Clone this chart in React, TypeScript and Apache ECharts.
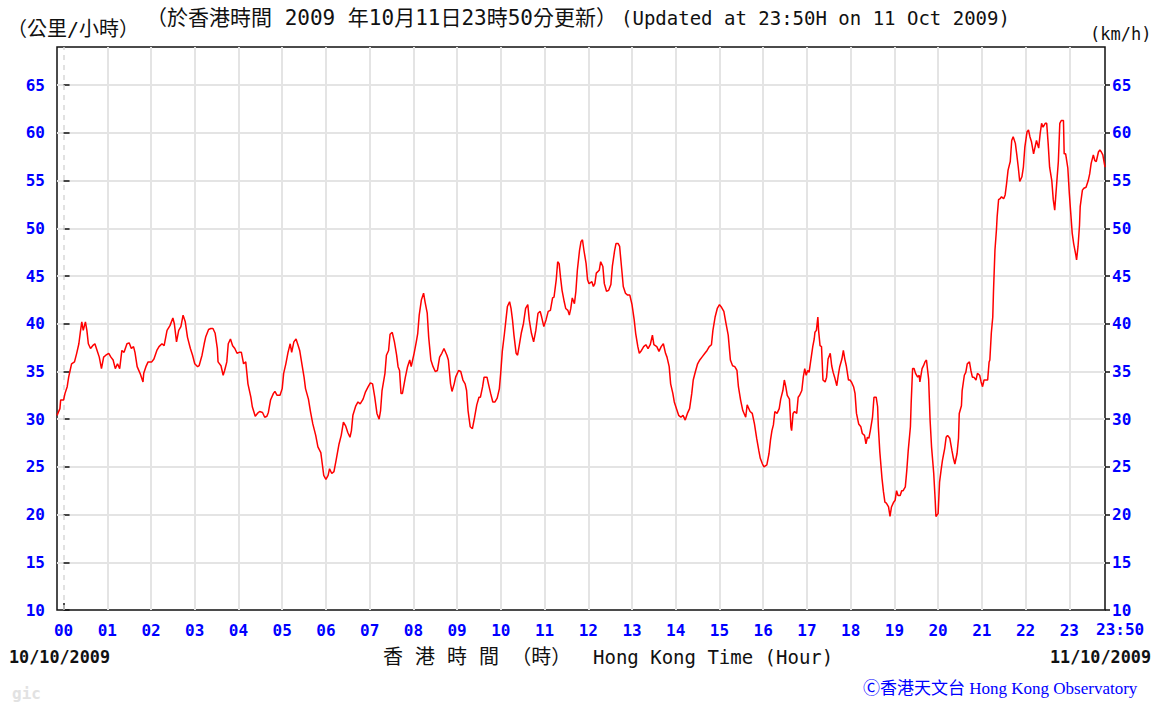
import React, { useEffect, useRef } from "react";
import * as echarts from "echarts";

// Wind speed readings: [minutes after 00:00 HKT, km/h]
const windNight: [number, number][] = [
  [-9,30.4],[-5,31.1],[-4,32.0],[0,32.0],[2,32.7],[5,33.4],[7,34.4],[9,35.1],[11,35.8],[15,36.0],[18,36.9],[21,37.9],[23,39.1],[25,40.2],[27,39.3],[30,40.2],[32,39.3],[34,37.9],[37,37.4],[40,37.7],[43,37.9],[46,37.2],[49,36.5],[52,35.3],[55,36.5],[58,36.7],[62,36.9],[65,36.5],[68,36.2],[71,35.3],[74,35.8],[77,35.3],[80,37.2],[83,37.0],[87,37.9],[90,38.0],[93,37.4],[96,37.6],[98,37.0],[101,35.5],[105,34.8],[109,33.9],[110,34.8],[113,35.5],[116,36.0],[121,36.0],[124,36.3],[128,37.2],[131,37.6],[135,37.9],[138,37.7],[142,39.3],[146,39.8],[150,40.6],[152,40.0],[155,38.1],[158,39.3],[161,39.7],[164,40.9],[167,40.2],[170,38.6],[174,37.4],[177,36.7],[180,35.8],[184,35.5],[186,35.6],[190,36.7],[193,37.9],[195,38.6],[199,39.4],[202,39.5],[205,39.5],[208,39.0],[211,37.4],[212,36.0],[216,35.6],[219,34.6],[221,35.1],[224,36.0],[226,37.9],[229,38.4],[232,37.7],[235,37.4],[238,36.9],[241,37.0],[244,37.0],[247,35.8],[250,36.0],[253,33.7],[257,32.3],[259,31.3],[263,30.3],[266,30.6],[269,30.8],[273,30.7],[276,30.2],[279,30.3],[281,30.7],[284,32.0],[288,32.7],[290,32.9],[293,32.5],[297,32.5],[300,33.2],[302,34.8],[305,35.8],[308,37.0],[311,37.9],[313,37.0],[316,38.1],[319,38.4],[322,37.7],[324,37.2],[327,35.8],[330,34.4],[332,33.2],[336,32.1],[339,30.7],[342,29.5],[346,28.3],[349,27.1],[353,26.5],[355,25.3],[357,24.1]
];
const windMorning: [number, number][] = [
  [360,23.7],[363,24.1],[365,24.8],[368,24.3],[371,24.5],[374,25.7],[378,27.4],[381,28.3],[384,29.7],[387,29.3],[390,28.6],[393,28.1],[395,28.8],[397,30.4],[401,31.4],[404,31.8],[407,31.6],[411,32.1],[414,32.8],[418,33.4],[421,33.8],[424,33.7],[427,32.3],[430,30.6],[433,30.0],[435,30.9],[437,33.0],[441,34.8],[443,36.7],[446,37.2],[448,38.9],[451,39.1],[454,38.1],[457,36.7],[459,35.5],[461,35.1],[463,32.7],[465,32.7],[469,34.4],[472,35.5],[475,36.2],[477,35.5],[479,36.2],[481,36.9],[484,38.1],[486,39.0],[488,40.9],[491,42.5],[494,43.2],[496,42.3],[499,41.1],[501,38.6],[504,36.2],[507,35.5],[510,35.0],[513,35.1],[516,36.5],[519,36.9],[522,37.4],[526,36.7],[528,36.2],[531,33.7],[533,32.9],[536,33.7],[538,34.4],[542,35.1],[545,35.0],[548,34.1],[551,33.7],[553,33.0],[555,30.9],[558,29.2],[561,29.0],[564,30.2],[567,31.5],[570,32.3],[572,32.3],[575,33.4],[577,34.4],[581,34.4],[583,33.7],[586,32.7],[589,31.8],[592,31.8],[595,32.2],[598,33.2],[600,35.0],[602,37.1],[605,39.0],[607,40.4],[609,41.8],[612,42.3],[614,41.6],[616,40.4],[618,38.8],[621,36.9],[623,36.7],[625,37.6],[628,39.0],[631,40.0],[634,41.6],[637,42.0],[639,40.4],[642,39.0],[645,38.1],[648,39.3],[651,41.1],[654,41.3],[656,40.7],[659,39.7],[662,40.4],[665,41.3],[668,41.4],[671,42.7],[673,42.8],[676,44.6],[678,46.5],[680,46.3],[682,44.8],[684,43.5],[687,42.3],[689,41.6],[692,41.4],[694,40.9],[696,41.6],[698,42.7],[701,42.1],[703,43.4],[705,45.6],[708,47.7],[710,48.6],[712,48.8],[714,47.7],[717,46.3],[719,44.6]
];
const windAfternoon: [number, number][] = [
  [721,44.2],[725,44.4],[727,43.9],[729,44.2],[731,45.3],[735,45.6],[737,46.5],[740,46.0],[742,44.2],[745,43.4],[748,43.5],[751,44.1],[753,46.0],[756,47.6],[758,48.4],[761,48.4],[763,48.1],[766,45.6],[768,43.9],[771,43.2],[774,43.0],[777,43.0],[780,42.0],[783,40.4],[785,39.0],[788,37.6],[790,36.9],[793,37.2],[796,37.6],[799,37.8],[802,37.4],[805,37.8],[808,38.8],[810,37.8],[814,37.6],[817,37.1],[820,37.6],[823,37.9],[826,36.9],[828,36.5],[831,35.5],[833,33.7],[836,32.7],[838,31.8],[841,31.1],[844,30.4],[847,30.2],[850,30.4],[853,29.9],[856,30.6],[859,31.1],[862,32.7],[864,34.1],[867,35.0],[870,35.8],[873,36.2],[876,36.5],[880,36.9],[883,37.2],[886,37.6],[889,37.8],[891,39.3],[894,40.7],[897,41.6],[900,42.0],[903,41.7],[906,41.3],[909,40.0],[912,38.8],[915,36.2],[918,35.6],[921,35.5],[924,35.1],[926,33.4],[929,32.0],[932,30.9],[936,30.2],[938,31.5],[942,30.8],[945,30.6],[948,29.5],[951,28.0],[954,26.7],[956,25.9],[959,25.3],[961,25.0],[965,25.2],[968,26.4],[970,27.8],[972,28.8],[974,29.4],[976,30.8],[979,30.6],[982,31.1],[984,32.1],[987,33.0],[989,34.1],[991,33.4],[993,32.5],[996,32.1],[998,29.2],[999,28.8],[1001,30.6],[1003,30.8],[1006,30.6],[1008,32.3],[1010,32.5],[1013,33.0],[1015,34.4],[1017,35.3],[1019,34.6],[1021,35.1],[1023,34.9],[1025,36.0],[1028,37.6],[1030,38.4],[1031,39.1],[1033,39.3],[1035,40.7],[1036,39.3],[1038,37.7],[1040,37.6],[1042,34.1],[1045,33.9],[1047,34.4],[1049,36.3],[1052,36.9],[1054,35.6],[1056,34.9],[1058,34.4],[1061,33.5],[1063,34.6],[1065,35.5],[1068,36.3],[1070,37.2],[1072,36.3],[1074,35.6],[1077,34.1]
];
const windEvening: [number, number][] = [
  [1079,34.1],[1081,33.9],[1084,33.4],[1086,32.7],[1088,30.6],[1091,29.5],[1094,29.2],[1096,28.5],[1099,28.3],[1101,27.4],[1103,28.1],[1105,28.0],[1107,28.8],[1110,30.2],[1112,32.3],[1115,32.3],[1117,31.3],[1118,29.2],[1120,26.6],[1123,23.8],[1125,22.4],[1127,21.3],[1129,21.2],[1132,20.8],[1134,19.8],[1136,20.8],[1139,21.3],[1141,21.5],[1143,22.5],[1145,22.0],[1148,22.0],[1150,22.5],[1152,22.5],[1155,22.9],[1157,24.6],[1159,26.7],[1162,29.2],[1163,31.6],[1165,35.3],[1167,35.3],[1169,34.8],[1172,34.4],[1174,34.6],[1175,33.9],[1178,35.3],[1180,35.6],[1182,36.0],[1184,36.2],[1187,34.2],[1189,29.9],[1191,27.1],[1194,24.3],[1196,21.5],[1197,19.8],[1200,20.1],[1202,23.4],[1204,24.6],[1206,25.7],[1209,26.9],[1211,28.1],[1213,28.3],[1216,28.0],[1219,26.7],[1221,25.9],[1223,25.3],[1226,26.4],[1228,28.0],[1229,30.6],[1232,31.4],[1233,33.0],[1236,34.6],[1238,34.9],[1240,35.8],[1243,36.0],[1245,35.1],[1247,34.4],[1249,34.4],[1252,34.1],[1254,34.8],[1257,34.6],[1259,33.9],[1261,33.4],[1263,34.1],[1266,34.1],[1268,34.1],[1270,36.0],[1271,36.2],[1273,39.0],[1275,40.7],[1276,43.4],[1278,47.7],[1280,49.8],[1281,51.2],[1283,53.0],[1285,53.1],[1287,53.3],[1290,53.1],[1292,53.5],[1294,54.7],[1296,56.1],[1299,57.0],[1301,59.2],[1303,59.6],[1306,58.9],[1308,57.7],[1310,56.4],[1312,54.9],[1315,55.4],[1317,56.4],[1319,58.5],[1322,60.1],[1324,60.3],[1326,59.6],[1328,59.1],[1331,57.8],[1333,58.5],[1335,59.2],[1338,58.4],[1340,59.9],[1342,61.0],[1344,60.6],[1347,61.0],[1349,61.0],[1351,58.9],[1353,56.4],[1356,55.0],[1358,53.0],[1360,51.9],[1363,55.0],[1365,57.0],[1367,61.0],[1369,61.3],[1372,61.3],[1373,57.8],[1375,57.8],[1378,56.3],[1380,53.7],[1382,51.6],[1384,49.5],[1386,48.4],[1389,47.2],[1390,46.7],[1392,48.1],[1394,50.3],[1395,52.3],[1398,54.0],[1400,54.2],[1403,54.3],[1406,55.0],[1408,55.7],[1410,56.8],[1413,57.7],[1415,57.1],[1417,57.0],[1420,58.0],[1422,58.2],[1424,58.0],[1426,57.7],[1429,56.4]
];

const hourLabels = ["00","01","02","03","04","05","06","07","08","09","10","11","12","13","14","15","16","17","18","19","20","21","22","23"];
const xMin = -9;
const xMax = 1429;
const yMin = 10;
const yMax = 69;
const yStep = 5;

const titleZh = "（於香港時間 2009 年10月11日23時50分更新）";
const titleEn = "(Updated at 23:50H on 11 Oct 2009)";
const unitZh = "（公里/小時）";
const unitEn = "(km/h)";
const axisNameZh = "香 港 時 間 （時）";
const axisNameEn = "Hong Kong Time (Hour)";
const startDate = "10/10/2009";
const endDate = "11/10/2009";
const endLabel = "23:50";
const credit = "Ⓒ香港天文台 Hong Kong Observatory";

const MONO = '"DejaVu Sans Mono", monospace';
const MIXED = '"DejaVu Sans Mono", "Noto Sans CJK TC", sans-serif';
const BLUE = "#0000ff";
const GRID_GRAY = "#e4e4e4";

export default function App() {
  const ref = useRef<HTMLDivElement>(null);

  useEffect(() => {
    if (!ref.current) return;
    const chart = echarts.init(ref.current, undefined, { renderer: "svg" });
    const data = [...windNight, ...windMorning, ...windAfternoon, ...windEvening];
    const hourValues = hourLabels.map((_, i) => i * 60);

    const text = (x: number, y: number, t: string, font: string, fill: string, align = "left") => ({
      type: "text",
      x,
      y,
      silent: true,
      style: { text: t, font, fill, align, verticalAlign: "middle" },
    });

    const yAxisBase = {
      type: "value",
      min: yMin,
      max: yMax,
      interval: yStep,
      axisLine: { show: false },
      axisLabel: {
        color: BLUE,
        fontFamily: MONO,
        fontWeight: "bold",
        fontSize: 16,
        showMaxLabel: false,
      },
    };

    chart.setOption({
      animation: false,
      backgroundColor: "#ffffff",
      grid: {
        left: 57,
        top: 47,
        width: 1048,
        height: 563,
        show: true,
        borderColor: "#111111",
        borderWidth: 1.5,
        backgroundColor: "#ffffff",
      },
      xAxis: {
        type: "value",
        min: xMin,
        max: xMax,
        axisLine: { show: false },
        axisTick: {
          show: true,
          inside: true,
          length: 7,
          customValues: hourValues,
          lineStyle: { color: "#111111", width: 1.5 },
        },
        axisLabel: {
          show: true,
          customValues: hourValues,
          formatter: (v: number) => hourLabels[Math.round(v / 60)] ?? "",
          color: BLUE,
          fontFamily: MONO,
          fontWeight: "bold",
          fontSize: 16,
          margin: 12,
        },
        splitLine: { show: false },
      },
      yAxis: [
        {
          ...yAxisBase,
          position: "left",
          axisTick: { show: true, inside: true, length: 6, lineStyle: { color: "#111111", width: 1.5 } },
          axisLabel: { ...yAxisBase.axisLabel, margin: 12 },
          splitLine: {
            show: true,
            showMinLine: false,
            showMaxLine: false,
            lineStyle: { color: GRID_GRAY, width: 2 },
          },
        },
        {
          ...yAxisBase,
          position: "right",
          axisTick: { show: true, inside: false, length: 5, lineStyle: { color: "#111111", width: 1.5 } },
          axisLabel: { ...yAxisBase.axisLabel, margin: 7 },
          splitLine: { show: false },
        },
      ],
      series: [
        {
          type: "line",
          data,
          showSymbol: false,
          symbol: "none",
          z: 3,
          lineStyle: { color: "#ff0000", width: 1.5 },
          markLine: {
            silent: true,
            z: 1,
            symbol: ["none", "none"],
            label: { show: false },
            emphasis: { disabled: true },
            lineStyle: { color: GRID_GRAY, width: 2, type: "solid" },
            data: hourValues.map((v, i) =>
              i === 0
                ? { xAxis: v, lineStyle: { color: "#d8d8d8", width: 1.5, type: [5, 5] } }
                : { xAxis: v }
            ),
          },
        },
      ],
      graphic: {
        elements: [
          text(7, 29, unitZh, `20px ${MIXED}`, "#111111"),
          text(146, 18, titleZh, `21px ${MIXED}`, "#111111"),
          text(621, 18, titleEn, `19px ${MONO}`, "#111111"),
          text(1090, 34, unitEn, `17px ${MONO}`, "#111111"),
          text(1096, 629, endLabel, `bold 16px ${MONO}`, BLUE),
          text(9, 657, startDate, `bold 16.8px ${MONO}`, "#111111"),
          text(1151, 657, endDate, `bold 16.8px ${MONO}`, "#111111", "right"),
          text(383, 657, axisNameZh, `20px ${MIXED}`, "#111111"),
          text(593, 657, axisNameEn, `19px ${MONO}`, "#111111"),
          text(863, 688, credit, `17px "Liberation Serif", "Noto Sans CJK TC", serif`, BLUE),
          text(12, 693, "gic", `bold 16px ${MONO}`, "#e2e2e2"),
        ],
      },
    });

    return () => chart.dispose();
  }, []);

  return (
    <div
      ref={ref}
      style={{ position: "absolute", left: 0, top: 0, width: 1162, height: 703, background: "#ffffff" }}
    />
  );
}
